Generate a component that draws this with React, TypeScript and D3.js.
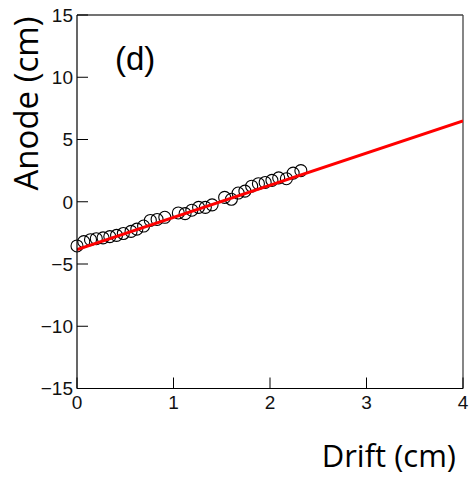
import React from 'react';
import * as d3 from 'd3';

// measured points (drift vs anode position)
const driftCm = [0, 0.07, 0.14, 0.2, 0.27, 0.34, 0.41, 0.48, 0.56, 0.62, 0.69, 0.76, 0.83, 0.91,
  1.05, 1.12, 1.19, 1.26, 1.33, 1.4, 1.53, 1.6, 1.67, 1.74, 1.81, 1.88, 1.95, 2.02, 2.09, 2.17, 2.24, 2.32];
const anodeCm = [-3.55, -3.2, -3.05, -2.97, -2.9, -2.8, -2.7, -2.55, -2.38, -2.2, -1.95, -1.5, -1.42, -1.25,
  -0.9, -0.95, -0.68, -0.45, -0.45, -0.25, 0.35, 0.2, 0.7, 0.85, 1.25, 1.45, 1.55, 1.72, 1.92, 1.85, 2.3, 2.5];

// straight fit, endpoints
const fitX = [0, 4];
const fitY = [-3.85, 6.5];

const xTicks = [0, 1, 2, 3, 4];
const yTicks = [-15, -10, -5, 0, 5, 10, 15];

const W = 470;
const H = 477;
const left = 77, right = 463, top = 15, bottom = 388.5;

export default function App() {
  const x = d3.scaleLinear().domain([0, 4]).range([left, right]);
  const y = d3.scaleLinear().domain([-15, 15]).range([bottom, top]);

  const fitLine = d3.line<number>()
    .x((d) => x(d))
    .y((_, i) => y(fitY[i]));

  const tickFont = '"Liberation Sans", Arial, sans-serif';
  const titleFont = '"Open Sans", "Noto Sans", sans-serif';
  const fmt = (v: number) => (v < 0 ? '\u2212' + Math.abs(v) : String(v));

  return (
    <svg width={W} height={H} style={{ position: 'absolute', left: 0, top: 0, background: '#fff' }}>
      <defs>
        <clipPath id="plot">
          <rect x={left} y={top} width={right - left} height={bottom - top} />
        </clipPath>
      </defs>

      {/* frame */}
      <line x1={left} y1={top} x2={right} y2={top} stroke="#444" strokeWidth={1.3} />
      <line x1={right} y1={top} x2={right} y2={bottom} stroke="#444" strokeWidth={1.3} />

      {/* points */}
      <g>
        {driftCm.map((d, i) => (
          <circle key={i} cx={x(d)} cy={y(anodeCm[i])} r={6} fill="none" stroke="#000" strokeWidth={1.1} />
        ))}
      </g>

      {/* fit */}
      <path d={fitLine(fitX) || ''} stroke="#ff0000" strokeWidth={3} fill="none" clipPath="url(#plot)" />

      {/* axes */}
      <line x1={left} y1={top} x2={left} y2={bottom} stroke="#000" strokeWidth={1.2} />
      <line x1={left} y1={bottom} x2={right} y2={bottom} stroke="#000" strokeWidth={1.2} />

      {yTicks.map((t) => (
        <g key={'y' + t}>
          <line x1={left} x2={left + 11} y1={y(t)} y2={y(t)} stroke="#000" strokeWidth={1} />
          <text x={left - 4} y={y(t)} dy="0.36em" textAnchor="end" fontFamily={tickFont} fontSize={19} fill="#111">
            {fmt(t)}
          </text>
        </g>
      ))}

      {xTicks.map((t) => (
        <g key={'x' + t}>
          <line x1={x(t)} x2={x(t)} y1={bottom} y2={bottom - 11} stroke="#000" strokeWidth={1} />
          <text x={x(t)} y={bottom + 20} textAnchor="middle" fontFamily={tickFont} fontSize={19} fill="#111">
            {fmt(t)}
          </text>
        </g>
      ))}

      <text x={115} y={70} fontFamily={tickFont} fontSize={33} fill="#000">(d)</text>

      <text transform={`translate(38,${(15 + 192) / 2}) rotate(-90)`} textAnchor="middle"
        fontFamily={titleFont} fontSize={33} fill="#000">
        Anode (cm)
      </text>
      <text x={456} y={467} textAnchor="end" fontFamily={titleFont} fontSize={31} fill="#000">
        Drift (cm)
      </text>
    </svg>
  );
}
